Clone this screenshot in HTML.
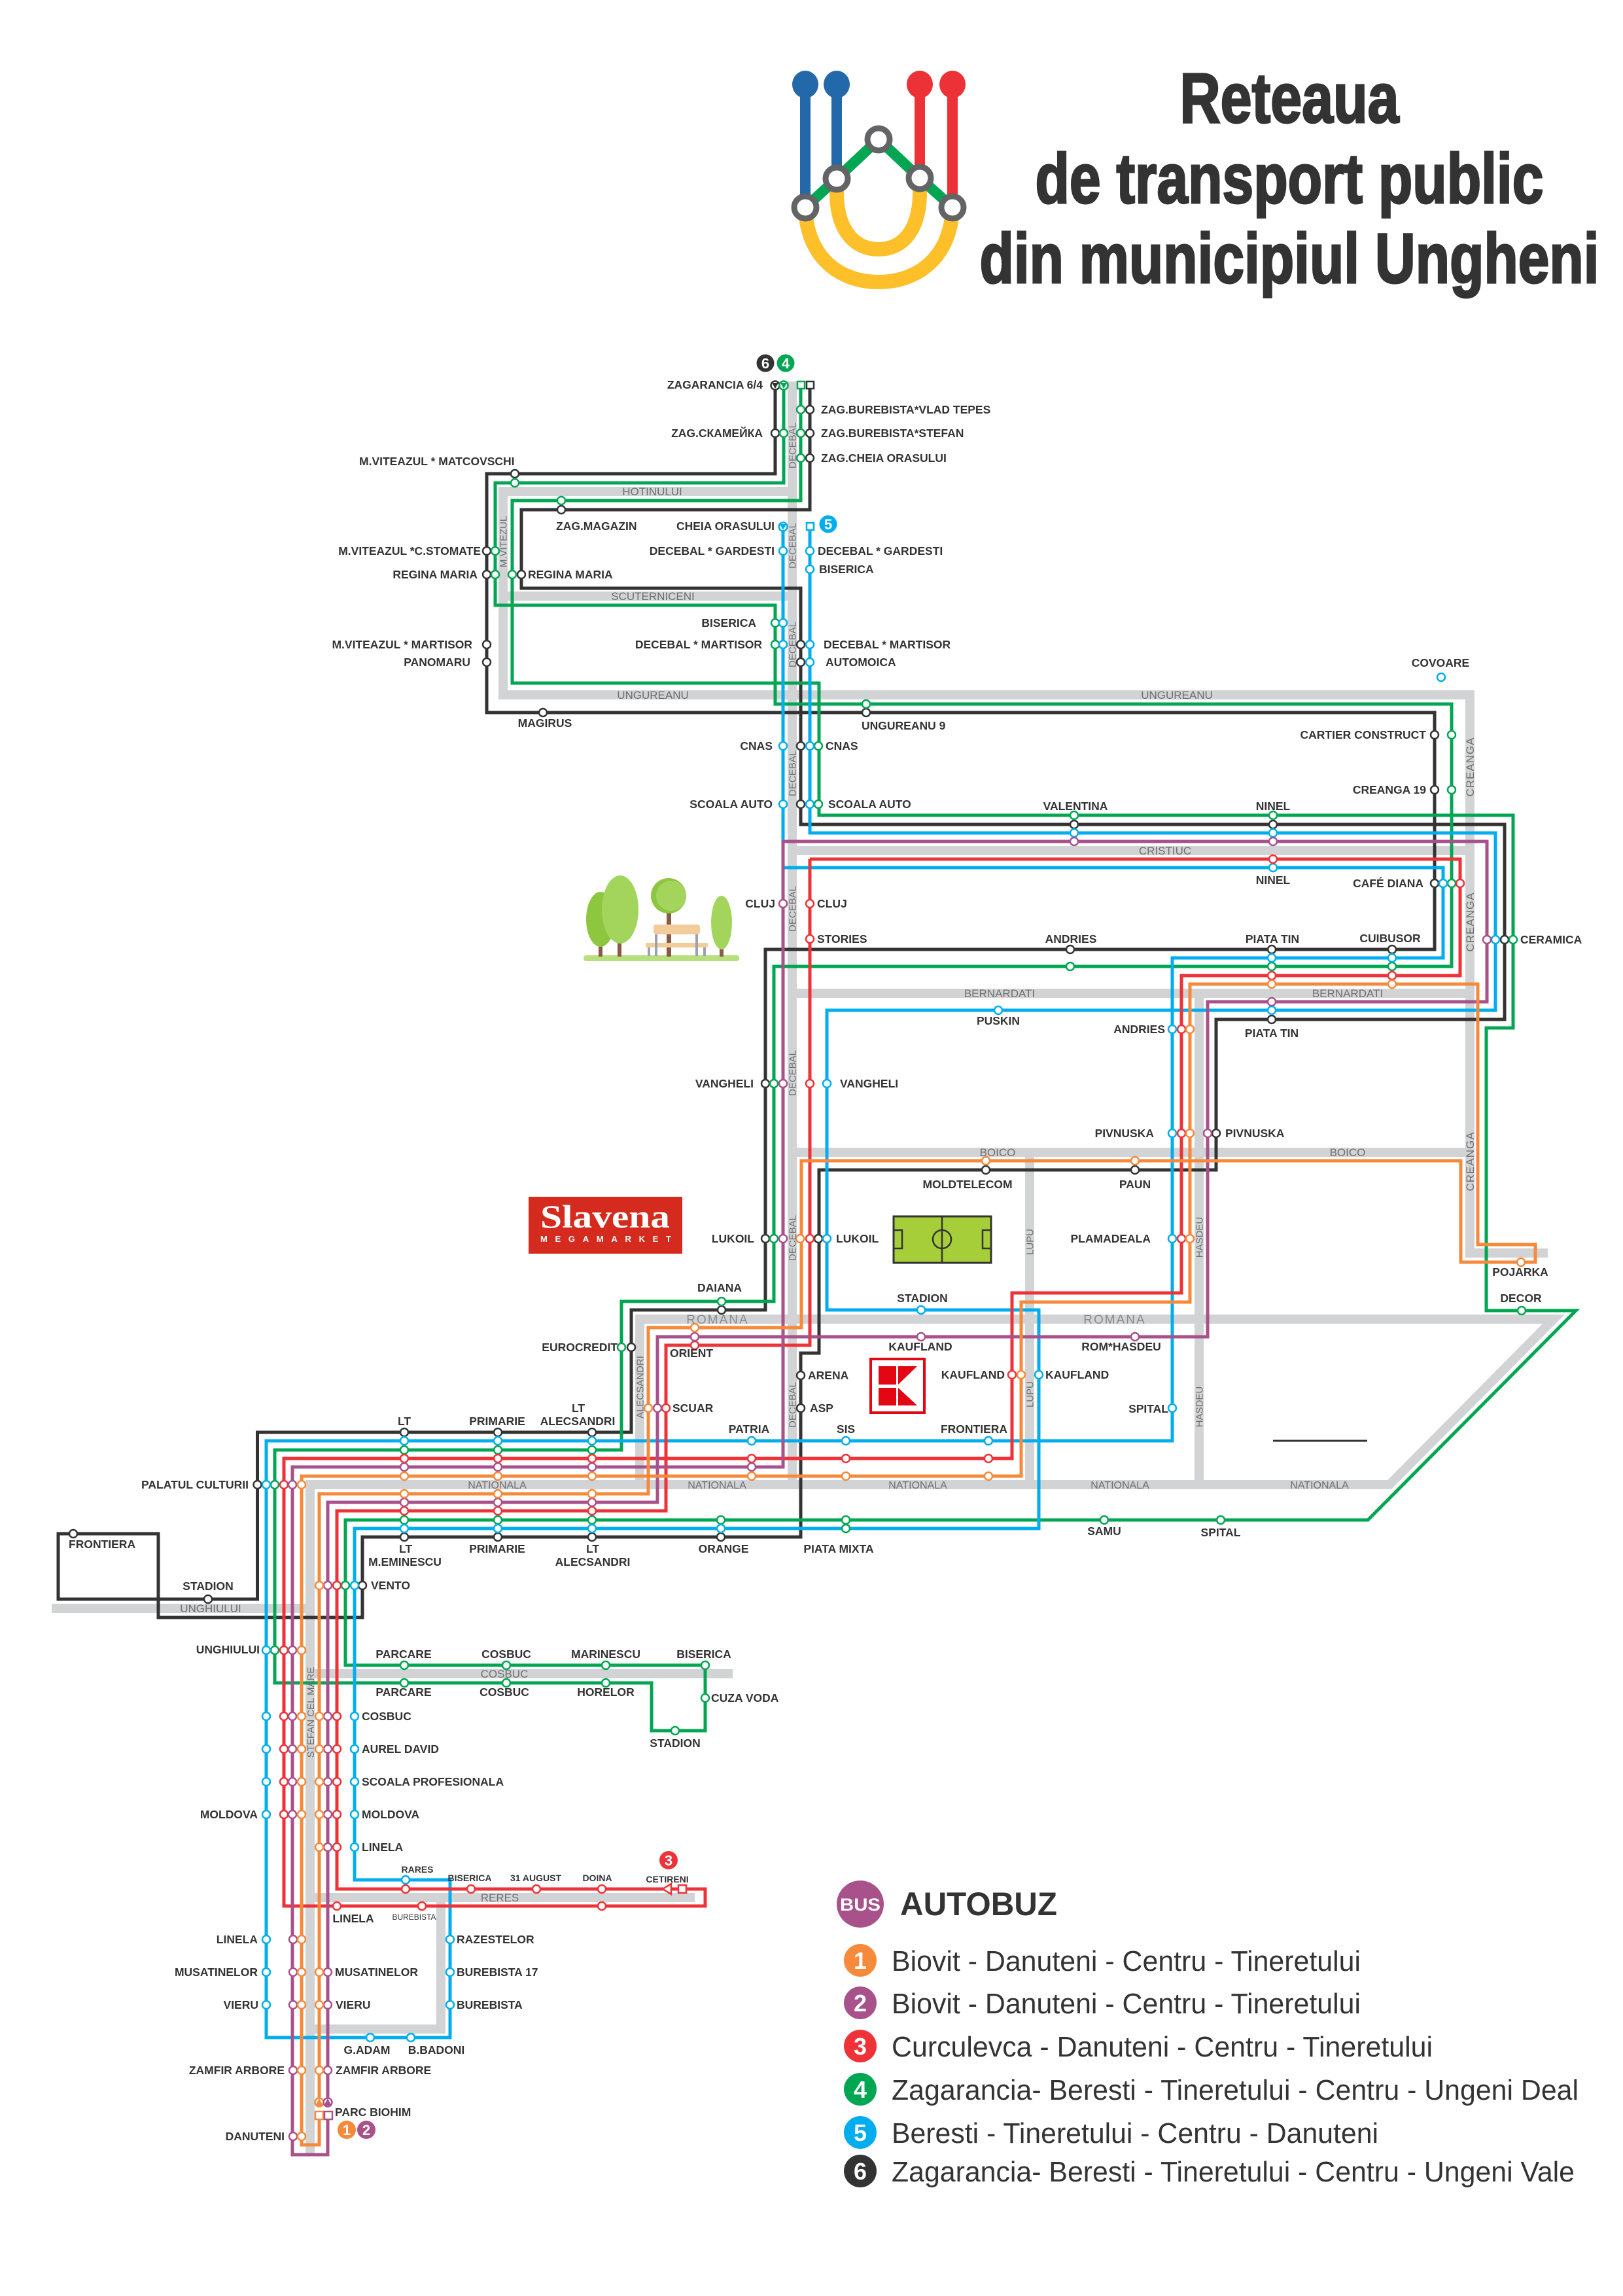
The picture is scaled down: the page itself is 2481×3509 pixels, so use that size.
<!DOCTYPE html>
<html><head><meta charset="utf-8">
<style>
html,body{margin:0;padding:0;background:#fff;}
svg{display:block;}
.t{font-family:"Liberation Sans",Arial,sans-serif;font-weight:bold;font-size:17.5px;fill:#333;}
.ts{font-family:"Liberation Sans",Arial,sans-serif;font-weight:bold;font-size:14px;fill:#333;}
.rd{font-family:"Liberation Sans",Arial,sans-serif;font-size:17px;fill:#6d6e71;}
.rdv{font-family:"Liberation Sans",Arial,sans-serif;font-size:15px;fill:#6d6e71;}
.rb{font-family:"Liberation Sans",Arial,sans-serif;font-size:19px;fill:#8a8b8d;letter-spacing:2px;}
.road{fill:none;stroke:#d1d3d4;stroke-width:14;}
.ln{fill:none;stroke-width:5;stroke-linejoin:miter;}
.n circle,.n rect{fill:#fff;stroke-width:2.5;}
.k{stroke:#333;} .g{stroke:#00a651;} .b{stroke:#00aeef;} .r{stroke:#ee3238;} .p{stroke:#a8518a;} .o{stroke:#f6893a;}
.title{font-family:"Liberation Sans",Arial,sans-serif;font-weight:bold;font-size:108px;fill:#333;stroke:#333;stroke-width:3;}
.leg{font-family:"Liberation Sans",Arial,sans-serif;font-size:44px;fill:#333;}
.bd{font-family:"Liberation Sans",Arial,sans-serif;font-weight:bold;fill:#fff;text-anchor:middle;}
</style></head>
<body>
<svg width="2481" height="3509" viewBox="0 0 2481 3509" xmlns="http://www.w3.org/2000/svg">
<rect width="2481" height="3509" fill="#fff"/>

<!-- LOGO -->
<g>
<path d="M1231,317 C1233,392 1282,431 1343,431 C1404,431 1454,392 1456,317" fill="none" stroke="#fdc02b" stroke-width="22"/>
<path d="M1279,273 V300 C1281,352 1306,381 1343,381 C1380,381 1404,352 1406,300 V273" fill="none" stroke="#fdc02b" stroke-width="22"/>
<line x1="1231" y1="130" x2="1231" y2="317" stroke="#2369a9" stroke-width="16"/>
<line x1="1279" y1="130" x2="1279" y2="273" stroke="#2369a9" stroke-width="16"/>
<line x1="1406" y1="130" x2="1406" y2="272" stroke="#ec3237" stroke-width="16"/>
<line x1="1456" y1="130" x2="1456" y2="317" stroke="#ec3237" stroke-width="16"/>
<ellipse cx="1231" cy="129" rx="20" ry="21" fill="#2369a9"/>
<ellipse cx="1279" cy="129" rx="20" ry="21" fill="#2369a9"/>
<ellipse cx="1406" cy="129" rx="20" ry="21" fill="#ec3237"/>
<ellipse cx="1456" cy="129" rx="20" ry="21" fill="#ec3237"/>
<polyline points="1231,317 1279,273 1343,213 1406,272 1456,317" fill="none" stroke="#00a651" stroke-width="16"/>
<g fill="#fff" stroke="#636466" stroke-width="9">
<circle cx="1231" cy="317" r="17"/><circle cx="1279" cy="273" r="17"/><circle cx="1343" cy="213" r="17"/><circle cx="1406" cy="272" r="17"/><circle cx="1456" cy="317" r="17"/>
</g>
</g>
<text class="title" x="1971" y="187" text-anchor="middle" textLength="335" lengthAdjust="spacingAndGlyphs">Reteaua</text>
<text class="title" x="1971" y="310" text-anchor="middle" textLength="777" lengthAdjust="spacingAndGlyphs">de transport public</text>
<text class="title" x="1971" y="432" text-anchor="middle" textLength="947" lengthAdjust="spacingAndGlyphs">din municipiul Ungheni</text>

<!-- ROADS -->
<g class="road">
<path d="M1211,583 V2269"/>
<path d="M1211,751 H769 V1062 H2247 V1915 H2366"/>
<path d="M769,911 H1211"/>
<path d="M1211,1300 H2247"/>
<path d="M1211,1518 H2247"/>
<path d="M1833,1518 V2269"/>
<path d="M1211,1761 H2247"/>
<path d="M1574,1761 V2269"/>
<path d="M978,2269 V2016 H2375 L2124,2269 H474 V3293"/>
<path d="M79,2458 H474"/>
<path d="M474,2558 H1120"/>
<path d="M474,2900 H1062"/>
<path d="M674,2900 V3101 H474"/>
</g>

<!-- ILLUSTRATIONS -->
<g>
<rect x="892" y="1460" width="238" height="9" rx="4" fill="#b7e07c"/>
<rect x="915" y="1420" width="6" height="42" fill="#8a5a44"/>
<ellipse cx="918" cy="1405" rx="22" ry="42" fill="#8dc63f"/>
<rect x="944" y="1420" width="6" height="42" fill="#8a5a44"/>
<ellipse cx="948" cy="1390" rx="28" ry="52" fill="#a3d55d"/>
<rect x="1019" y="1380" width="7" height="82" fill="#8a5a44"/>
<circle cx="1022" cy="1369" r="27" fill="#8dc63f"/>
<circle cx="1026" cy="1369" r="23" fill="#a3d55d"/>
<rect x="999" y="1413" width="71" height="15" rx="4" fill="#f2cc9b"/>
<rect x="987" y="1441" width="95" height="7" rx="2" fill="#f2cc9b"/>
<rect x="1001" y="1428" width="4" height="33" fill="#98a2b3"/>
<rect x="1063" y="1428" width="4" height="33" fill="#98a2b3"/>
<rect x="990" y="1448" width="4" height="13" fill="#98a2b3"/>
<rect x="1075" y="1448" width="4" height="13" fill="#98a2b3"/>
<rect x="1100" y="1440" width="6" height="22" fill="#8a5a44"/>
<ellipse cx="1103" cy="1410" rx="16" ry="41" fill="#a3d55d"/>
</g>
<g>
<rect x="808" y="1829" width="235" height="87" fill="#d52b1e"/>
<text x="925" y="1876" text-anchor="middle" textLength="198" lengthAdjust="spacingAndGlyphs" style="font-family:'Liberation Serif',serif;font-weight:bold;font-size:50px;fill:#fff;">Slavena</text>
<text x="826" y="1898" textLength="200" lengthAdjust="spacing" style="font-family:'Liberation Sans',sans-serif;font-weight:bold;font-size:13px;fill:#fff;">MEGAMARKET</text>
</g>
<g>
<rect x="1366" y="1859" width="149" height="71" fill="#a6ce39" stroke="#333" stroke-width="3"/>
<line x1="1440" y1="1859" x2="1440" y2="1930" stroke="#333" stroke-width="2.5"/>
<circle cx="1440" cy="1894" r="14" fill="none" stroke="#333" stroke-width="2.5"/>
<rect x="1366" y="1880" width="13" height="28" fill="none" stroke="#333" stroke-width="2.5"/>
<rect x="1502" y="1880" width="13" height="28" fill="none" stroke="#333" stroke-width="2.5"/>
</g>
<g>
<rect x="1331" y="2077" width="82" height="82" fill="#fff" stroke="#e30613" stroke-width="4"/>
<rect x="1343" y="2088" width="27" height="28" fill="#e30613"/>
<rect x="1343" y="2121" width="27" height="27" fill="#e30613"/>
<polygon points="1373,2088 1402,2088 1373,2116" fill="#e30613"/>
<polygon points="1373,2121 1402,2148 1373,2148" fill="#e30613"/>
</g>
<line x1="1946" y1="2202" x2="2090" y2="2202" stroke="#333" stroke-width="3"/>

<!-- ROUTE LINES -->
<path class="ln k" d="M1185,594 V724 H744 V1089 H2193 V1451 H1170 V2002 H965 V2189 H393.5 V2444 H89 V2344 H242 V2472 H554 V2349 H1224 V2068 H1252 V1788 H1859 V1558 H2300 V1260 H1224 V899 H797 V779 H1238 V594"/>
<path class="ln g" d="M1198,594 V738 H757 V925 H1185 V1076 H2219 V1477 H1183 V1989 H950 V2216 H420 V2572 H996 V2645 H1078 V2545 H528 V2323 H2091 L2409,2003 H2272 V1571 H2313 V1246 H1252 V1044 H783 V765 H1224 V594"/>
<path class="ln b" d="M1197,810 V1326 H2206 V1464 H1792 V2202 H407 V3114 H688 V2873 H542 V2336 H1588 V2002 H1264 V1544 H2286 V1273 H1238 V810"/>
<path class="ln r" d="M1238,1313 H2232 V1491 H1806 V1976 H1547 V2229 H434 V2913 H1078 V2887 H515 V2309 H1018 V2056 H1238 V1313"/>
<path class="ln p" d="M501,3213 V2296 H1005 V2043 H1846 V1531 H2273 V1286 H1197 V2242 H447 V3293 H501 V3233"/>
<path class="ln o" d="M488,3213 V2283 H991 V2029 H1225 V1774 H2233 V1929 H2347 V1902 H2259 V1504 H1819 V1990 H1561 V2256 H461 V3278 H488 V3233"/>

<!-- NODES -->
<g class="n">
<!-- black -->
<circle class="k" r="6" cx="1185" cy="662"/><circle class="k" r="6" cx="1238" cy="626"/><circle class="k" r="6" cx="1238" cy="662"/><circle class="k" r="6" cx="1238" cy="700"/>
<circle class="k" r="6" cx="787" cy="724"/><circle class="k" r="6" cx="858" cy="779"/><circle class="k" r="6" cx="744" cy="842"/><circle class="k" r="6" cx="744" cy="878"/><circle class="k" r="6" cx="797" cy="878"/>
<circle class="k" r="6" cx="744" cy="985"/><circle class="k" r="6" cx="744" cy="1012"/><circle class="k" r="6" cx="1224" cy="985"/><circle class="k" r="6" cx="1224" cy="1012"/>
<circle class="k" r="6" cx="830" cy="1089"/><circle class="k" r="6" cx="1324" cy="1089"/><circle class="k" r="6" cx="2193" cy="1123"/><circle class="k" r="6" cx="1224" cy="1140"/>
<circle class="k" r="6" cx="2193" cy="1207"/><circle class="k" r="6" cx="1224" cy="1229"/><circle class="k" r="6" cx="1642" cy="1260"/><circle class="k" r="6" cx="1946" cy="1260"/>
<circle class="k" r="6" cx="2193" cy="1350"/><circle class="k" r="6" cx="1636" cy="1451"/><circle class="k" r="6" cx="1944" cy="1451"/><circle class="k" r="6" cx="2128" cy="1451"/>
<circle class="k" r="6" cx="2300" cy="1436"/><circle class="k" r="6" cx="1944" cy="1558"/><circle class="k" r="6" cx="1859" cy="1732"/><circle class="k" r="6" cx="1170" cy="1656"/>
<circle class="k" r="6" cx="1507" cy="1788"/><circle class="k" r="6" cx="1735" cy="1788"/><circle class="k" r="6" cx="1170" cy="1893"/><circle class="k" r="6" cx="1251" cy="1893"/>
<circle class="k" r="6" cx="1103" cy="2002"/><circle class="k" r="6" cx="965" cy="2059"/><circle class="k" r="6" cx="1224" cy="2102"/><circle class="k" r="6" cx="1224" cy="2152"/>
<circle class="k" r="6" cx="618" cy="2189"/><circle class="k" r="6" cx="761" cy="2189"/><circle class="k" r="6" cx="905" cy="2189"/><circle class="k" r="6" cx="393.5" cy="2269"/>
<circle class="k" r="6" cx="318" cy="2444"/><circle class="k" r="6" cx="112" cy="2344"/><circle class="k" r="6" cx="554" cy="2423"/>
<circle class="k" r="6" cx="618" cy="2349"/><circle class="k" r="6" cx="761" cy="2349"/><circle class="k" r="6" cx="905" cy="2349"/><circle class="k" r="6" cx="1102" cy="2349"/>
<!-- green -->
<circle class="g" r="6" cx="1224" cy="626"/><circle class="g" r="6" cx="1198" cy="662"/><circle class="g" r="6" cx="1224" cy="662"/><circle class="g" r="6" cx="1224" cy="700"/>
<circle class="g" r="6" cx="787" cy="738"/><circle class="g" r="6" cx="858" cy="765"/><circle class="g" r="6" cx="757" cy="842"/><circle class="g" r="6" cx="757" cy="878"/><circle class="g" r="6" cx="783" cy="878"/>
<circle class="g" r="6" cx="1185" cy="952"/><circle class="g" r="6" cx="1185" cy="985"/><circle class="g" r="6" cx="1324" cy="1076"/><circle class="g" r="6" cx="2219" cy="1123"/>
<circle class="g" r="6" cx="1251" cy="1140"/><circle class="g" r="6" cx="2219" cy="1207"/><circle class="g" r="6" cx="1251" cy="1229"/><circle class="g" r="6" cx="1642" cy="1246"/>
<circle class="g" r="6" cx="1946" cy="1246"/><circle class="g" r="6" cx="2219" cy="1350"/><circle class="g" r="6" cx="2313" cy="1436"/><circle class="g" r="6" cx="1636" cy="1477"/>
<circle class="g" r="6" cx="1944" cy="1477"/><circle class="g" r="6" cx="2128" cy="1477"/><circle class="g" r="6" cx="1183" cy="1656"/><circle class="g" r="6" cx="1183" cy="1893"/>
<circle class="g" r="6" cx="1103" cy="1989"/><circle class="g" r="6" cx="950" cy="2059"/><circle class="g" r="6" cx="618" cy="2216"/><circle class="g" r="6" cx="761" cy="2216"/><circle class="g" r="6" cx="905" cy="2216"/>
<circle class="g" r="6" cx="420" cy="2269"/><circle class="g" r="6" cx="420" cy="2522"/><circle class="g" r="6" cx="528" cy="2423"/>
<circle class="g" r="6" cx="618" cy="2323"/><circle class="g" r="6" cx="761" cy="2323"/><circle class="g" r="6" cx="905" cy="2323"/><circle class="g" r="6" cx="1102" cy="2323"/>
<circle class="g" r="6" cx="1293" cy="2323"/><circle class="g" r="6" cx="1293" cy="2336"/><circle class="g" r="6" cx="1688" cy="2323"/><circle class="g" r="6" cx="1866" cy="2323"/><circle class="g" r="6" cx="2326" cy="2003"/>
<circle class="g" r="6" cx="618" cy="2545"/><circle class="g" r="6" cx="774" cy="2545"/><circle class="g" r="6" cx="926" cy="2545"/><circle class="g" r="6" cx="1078" cy="2545"/>
<circle class="g" r="6" cx="618" cy="2572"/><circle class="g" r="6" cx="774" cy="2572"/><circle class="g" r="6" cx="926" cy="2572"/><circle class="g" r="6" cx="1078" cy="2595"/><circle class="g" r="6" cx="1032" cy="2645"/>
<!-- blue -->
<circle class="b" r="6" cx="1197" cy="842"/><circle class="b" r="6" cx="1238" cy="842"/><circle class="b" r="6" cx="1238" cy="870"/><circle class="b" r="6" cx="1197" cy="952"/>
<circle class="b" r="6" cx="1197" cy="985"/><circle class="b" r="6" cx="1238" cy="985"/><circle class="b" r="6" cx="1238" cy="1012"/><circle class="b" r="6" cx="2203" cy="1035"/>
<circle class="b" r="6" cx="1197" cy="1140"/><circle class="b" r="6" cx="1238" cy="1140"/><circle class="b" r="6" cx="1197" cy="1229"/><circle class="b" r="6" cx="1238" cy="1229"/>
<circle class="b" r="6" cx="1642" cy="1273"/><circle class="b" r="6" cx="1946" cy="1273"/><circle class="b" r="6" cx="1946" cy="1326"/><circle class="b" r="6" cx="2206" cy="1350"/>
<circle class="b" r="6" cx="2286" cy="1436"/><circle class="b" r="6" cx="1944" cy="1464"/><circle class="b" r="6" cx="2128" cy="1464"/><circle class="b" r="6" cx="1526" cy="1544"/>
<circle class="b" r="6" cx="1944" cy="1544"/><circle class="b" r="6" cx="1792" cy="1573"/><circle class="b" r="6" cx="1264" cy="1656"/><circle class="b" r="6" cx="1792" cy="1732"/>
<circle class="b" r="6" cx="1264" cy="1893"/><circle class="b" r="6" cx="1792" cy="1893"/><circle class="b" r="6" cx="1408" cy="2002"/><circle class="b" r="6" cx="1588" cy="2101"/><circle class="b" r="6" cx="1792" cy="2152"/>
<circle class="b" r="6" cx="618" cy="2202"/><circle class="b" r="6" cx="761" cy="2202"/><circle class="b" r="6" cx="905" cy="2202"/><circle class="b" r="6" cx="1149" cy="2202"/><circle class="b" r="6" cx="1293" cy="2202"/><circle class="b" r="6" cx="1511" cy="2202"/>
<circle class="b" r="6" cx="407" cy="2269"/><circle class="b" r="6" cx="407" cy="2522"/><circle class="b" r="6" cx="542" cy="2423"/>
<circle class="b" r="6" cx="618" cy="2336"/><circle class="b" r="6" cx="761" cy="2336"/><circle class="b" r="6" cx="905" cy="2336"/><circle class="b" r="6" cx="1102" cy="2336"/>
<circle class="b" r="6" cx="407" cy="2623"/><circle class="b" r="6" cx="542" cy="2623"/><circle class="b" r="6" cx="407" cy="2673"/><circle class="b" r="6" cx="542" cy="2673"/>
<circle class="b" r="6" cx="407" cy="2723"/><circle class="b" r="6" cx="542" cy="2723"/><circle class="b" r="6" cx="407" cy="2773"/><circle class="b" r="6" cx="542" cy="2773"/>
<circle class="b" r="6" cx="542" cy="2823"/><circle class="b" r="6" cx="620" cy="2873"/>
<circle class="b" r="6" cx="407" cy="2964"/><circle class="b" r="6" cx="407" cy="3014"/><circle class="b" r="6" cx="407" cy="3064"/>
<circle class="b" r="6" cx="688" cy="2964"/><circle class="b" r="6" cx="688" cy="3014"/><circle class="b" r="6" cx="688" cy="3064"/>
<circle class="b" r="6" cx="566" cy="3114"/><circle class="b" r="6" cx="628" cy="3114"/>
<!-- red -->
<circle class="r" r="6" cx="1946" cy="1313"/><circle class="r" r="6" cx="2232" cy="1350"/><circle class="r" r="6" cx="1238" cy="1381"/><circle class="r" r="6" cx="1238" cy="1435"/>
<circle class="r" r="6" cx="1944" cy="1491"/><circle class="r" r="6" cx="2128" cy="1491"/><circle class="r" r="6" cx="1806" cy="1573"/><circle class="r" r="6" cx="1238" cy="1656"/>
<circle class="r" r="6" cx="1806" cy="1732"/><circle class="r" r="6" cx="1238" cy="1893"/><circle class="r" r="6" cx="1806" cy="1893"/><circle class="r" r="6" cx="1062" cy="2056"/>
<circle class="r" r="6" cx="1547" cy="2101"/><circle class="r" r="6" cx="1018" cy="2152"/>
<circle class="r" r="6" cx="618" cy="2229"/><circle class="r" r="6" cx="761" cy="2229"/><circle class="r" r="6" cx="905" cy="2229"/><circle class="r" r="6" cx="1149" cy="2229"/><circle class="r" r="6" cx="1293" cy="2229"/><circle class="r" r="6" cx="1511" cy="2229"/>
<circle class="r" r="6" cx="434" cy="2269"/><circle class="r" r="6" cx="434" cy="2522"/><circle class="r" r="6" cx="515" cy="2423"/>
<circle class="r" r="6" cx="618" cy="2309"/><circle class="r" r="6" cx="761" cy="2309"/><circle class="r" r="6" cx="905" cy="2309"/>
<circle class="r" r="6" cx="434" cy="2623"/><circle class="r" r="6" cx="515" cy="2623"/><circle class="r" r="6" cx="434" cy="2673"/><circle class="r" r="6" cx="515" cy="2673"/>
<circle class="r" r="6" cx="434" cy="2723"/><circle class="r" r="6" cx="515" cy="2723"/><circle class="r" r="6" cx="434" cy="2773"/><circle class="r" r="6" cx="515" cy="2773"/>
<circle class="r" r="6" cx="515" cy="2823"/>
<circle class="r" r="6" cx="620" cy="2887"/><circle class="r" r="6" cx="720" cy="2887"/><circle class="r" r="6" cx="820" cy="2887"/><circle class="r" r="6" cx="920" cy="2887"/>
<circle class="r" r="6" cx="515" cy="2913"/><circle class="r" r="6" cx="645" cy="2913"/><circle class="r" r="6" cx="920" cy="2913"/>
<!-- purple -->
<circle class="p" r="6" cx="1642" cy="1286"/><circle class="p" r="6" cx="1946" cy="1286"/><circle class="p" r="6" cx="2273" cy="1436"/><circle class="p" r="6" cx="1197" cy="1381"/>
<circle class="p" r="6" cx="1944" cy="1531"/><circle class="p" r="6" cx="1846" cy="1732"/><circle class="p" r="6" cx="1197" cy="1656"/><circle class="p" r="6" cx="1197" cy="1893"/>
<circle class="p" r="6" cx="1062" cy="2043"/><circle class="p" r="6" cx="1408" cy="2043"/><circle class="p" r="6" cx="1735" cy="2043"/><circle class="p" r="6" cx="1005" cy="2152"/>
<circle class="p" r="6" cx="618" cy="2242"/><circle class="p" r="6" cx="761" cy="2242"/><circle class="p" r="6" cx="905" cy="2242"/><circle class="p" r="6" cx="1149" cy="2242"/>
<circle class="p" r="6" cx="447" cy="2269"/><circle class="p" r="6" cx="447" cy="2522"/><circle class="p" r="6" cx="501" cy="2423"/>
<circle class="p" r="6" cx="618" cy="2296"/><circle class="p" r="6" cx="761" cy="2296"/><circle class="p" r="6" cx="905" cy="2296"/>
<circle class="p" r="6" cx="447" cy="2623"/><circle class="p" r="6" cx="501" cy="2623"/><circle class="p" r="6" cx="447" cy="2673"/><circle class="p" r="6" cx="501" cy="2673"/>
<circle class="p" r="6" cx="447" cy="2723"/><circle class="p" r="6" cx="501" cy="2723"/><circle class="p" r="6" cx="447" cy="2773"/><circle class="p" r="6" cx="501" cy="2773"/>
<circle class="p" r="6" cx="501" cy="2823"/>
<circle class="p" r="6" cx="448" cy="2964"/><circle class="p" r="6" cx="448" cy="3014"/><circle class="p" r="6" cx="501" cy="3014"/><circle class="p" r="6" cx="448" cy="3064"/><circle class="p" r="6" cx="501" cy="3064"/>
<circle class="p" r="6" cx="448" cy="3164"/><circle class="p" r="6" cx="501" cy="3164"/><circle class="p" r="6" cx="448" cy="3265"/>
<!-- orange -->
<circle class="o" r="6" cx="1944" cy="1504"/><circle class="o" r="6" cx="2128" cy="1504"/><circle class="o" r="6" cx="1819" cy="1573"/><circle class="o" r="6" cx="1819" cy="1732"/>
<circle class="o" r="6" cx="1507" cy="1774"/><circle class="o" r="6" cx="1735" cy="1774"/><circle class="o" r="6" cx="1223" cy="1893"/><circle class="o" r="6" cx="1819" cy="1893"/>
<circle class="o" r="6" cx="2325" cy="1929"/><circle class="o" r="6" cx="1062" cy="2029"/><circle class="o" r="6" cx="1561" cy="2101"/><circle class="o" r="6" cx="991" cy="2152"/>
<circle class="o" r="6" cx="618" cy="2256"/><circle class="o" r="6" cx="761" cy="2256"/><circle class="o" r="6" cx="905" cy="2256"/><circle class="o" r="6" cx="1149" cy="2256"/><circle class="o" r="6" cx="1293" cy="2256"/><circle class="o" r="6" cx="1511" cy="2256"/>
<circle class="o" r="6" cx="461" cy="2269"/><circle class="o" r="6" cx="461" cy="2522"/><circle class="o" r="6" cx="488" cy="2423"/>
<circle class="o" r="6" cx="618" cy="2283"/><circle class="o" r="6" cx="761" cy="2283"/><circle class="o" r="6" cx="905" cy="2283"/>
<circle class="o" r="6" cx="461" cy="2623"/><circle class="o" r="6" cx="488" cy="2623"/><circle class="o" r="6" cx="461" cy="2673"/><circle class="o" r="6" cx="488" cy="2673"/>
<circle class="o" r="6" cx="461" cy="2723"/><circle class="o" r="6" cx="488" cy="2723"/><circle class="o" r="6" cx="461" cy="2773"/><circle class="o" r="6" cx="488" cy="2773"/>
<circle class="o" r="6" cx="488" cy="2823"/>
<circle class="o" r="6" cx="461" cy="2964"/><circle class="o" r="6" cx="461" cy="3014"/><circle class="o" r="6" cx="488" cy="3014"/><circle class="o" r="6" cx="461" cy="3064"/><circle class="o" r="6" cx="488" cy="3064"/>
<circle class="o" r="6" cx="461" cy="3164"/><circle class="o" r="6" cx="488" cy="3164"/><circle class="o" r="6" cx="461" cy="3265"/>
<!-- terminals -->
<circle class="k" r="6.5" cx="1185" cy="589"/><circle class="g" r="6.5" cx="1198" cy="589"/><circle class="b" r="6.5" cx="1197" cy="805"/>
<rect class="g" x="1219" y="583" width="11" height="11"/><rect class="k" x="1233" y="583" width="11" height="11"/>
<rect class="b" x="1233" y="799" width="11" height="11"/>
<rect class="r" x="1037" y="2881" width="12" height="12"/>
<circle class="o" r="6.5" cx="488" cy="3213"/><circle class="p" r="6.5" cx="501" cy="3213"/>
<rect class="o" x="482" y="3227" width="12" height="12"/><rect class="p" x="496" y="3227" width="12" height="12"/>
</g>
<polygon points="1180,585 1190,585 1185,594" fill="#333"/>
<polygon points="1193,585 1203,585 1198,594" fill="#00a651"/>
<polygon points="1192,801 1202,801 1197,810" fill="#00aeef"/>
<polygon points="1013,2887 1026,2879 1026,2895" fill="#fff" stroke="#ee3238" stroke-width="2.5"/>
<polygon points="482,3218 494,3218 488,3207" fill="#f6893a"/>
<polygon points="495,3218 507,3218 501,3207" fill="#a8518a"/>

<!-- BADGES -->
<circle cx="1170" cy="555" r="13.5" fill="#333"/><text class="bd" x="1170" y="563" font-size="22">6</text>
<circle cx="1201" cy="555" r="13.5" fill="#00a651"/><text class="bd" x="1201" y="563" font-size="22">4</text>
<circle cx="1266" cy="801" r="13.5" fill="#00aeef"/><text class="bd" x="1266" y="809" font-size="22">5</text>
<circle cx="1022" cy="2843" r="14" fill="#ee3238"/><text class="bd" x="1022" y="2851" font-size="22">3</text>
<circle cx="530" cy="3255" r="14" fill="#f6893a"/><text class="bd" x="530" y="3263" font-size="22">1</text>
<circle cx="560" cy="3255" r="14" fill="#a8518a"/><text class="bd" x="560" y="3263" font-size="22">2</text>

<!-- ROAD LABELS -->
<g class="rd" text-anchor="middle">
<text x="997" y="757">HOTINULUI</text>
<text x="998" y="917">SCUTERNICENI</text>
<text x="998" y="1068">UNGUREANU</text>
<text x="1799" y="1068">UNGUREANU</text>
<text x="1781" y="1306">CRISTIUC</text>
<text x="1528" y="1524">BERNARDATI</text>
<text x="2060" y="1524">BERNARDATI</text>
<text x="1525" y="1767">BOICO</text>
<text x="2060" y="1767">BOICO</text>
<text x="322" y="2464">UNGHIULUI</text>
<text x="771" y="2564">COSBUC</text>
<text x="764" y="2906">RERES</text>
</g>
<g class="rd" text-anchor="middle" style="font-size:16px;">
<text x="760" y="2275">NATIONALA</text>
<text x="1096" y="2275">NATIONALA</text>
<text x="1403" y="2275">NATIONALA</text>
<text x="1712" y="2275">NATIONALA</text>
<text x="2017" y="2275">NATIONALA</text>
</g>
<g class="rdv" text-anchor="middle">
<text transform="translate(1216.5,681) rotate(-90)">DECEBAL</text>
<text transform="translate(1216.5,834) rotate(-90)">DECEBAL</text>
<text transform="translate(1216.5,985) rotate(-90)">DECEBAL</text>
<text transform="translate(1216.5,1182) rotate(-90)">DECEBAL</text>
<text transform="translate(1216.5,1389) rotate(-90)">DECEBAL</text>
<text transform="translate(1216.5,1640) rotate(-90)">DECEBAL</text>
<text transform="translate(1216.5,1892) rotate(-90)">DECEBAL</text>
<text transform="translate(1216.5,2147) rotate(-90)">DECEBAL</text>
<text transform="translate(774.5,828) rotate(-90)">M.VITEZUL</text>
<text transform="translate(1838.5,1891) rotate(-90)">HASDEU</text>
<text transform="translate(1838.5,2150) rotate(-90)">HASDEU</text>
<text transform="translate(1579.5,1898) rotate(-90)">LUPU</text>
<text transform="translate(1579.5,2131) rotate(-90)">LUPU</text>
<text transform="translate(983.5,2120) rotate(-90)">ALECSANDRI</text>
<text transform="translate(480,2617) rotate(-90)">STEFAN CEL MARE</text>
</g>
<g class="rdv" text-anchor="middle" style="font-size:17px;letter-spacing:1px;">
<text transform="translate(2253,1172) rotate(-90)">CREANGA</text>
<text transform="translate(2253,1409) rotate(-90)">CREANGA</text>
<text transform="translate(2253,1775) rotate(-90)">CREANGA</text>
</g>
<g class="rb" text-anchor="middle">
<text x="1097" y="2023">ROMANA</text>
<text x="1704" y="2023">ROMANA</text>
</g>

<!-- STATION LABELS -->
<g class="t">
<text x="1166" y="594" text-anchor="end">ZAGARANCIA 6/4</text>
<text x="1255" y="632">ZAG.BUREBISTA*VLAD TEPES</text>
<text x="1166" y="668" text-anchor="end">ZAG.СКАМЕЙКА</text>
<text x="1255" y="668">ZAG.BUREBISTA*STEFAN</text>
<text x="1255" y="706">ZAG.CHEIA ORASULUI</text>
<text x="549" y="711">M.VITEAZUL * MATCOVSCHI</text>
<text x="850" y="810">ZAG.MAGAZIN</text>
<text x="1184" y="810" text-anchor="end">CHEIA ORASULUI</text>
<text x="735" y="848" text-anchor="end">M.VITEAZUL *C.STOMATE</text>
<text x="1184" y="848" text-anchor="end">DECEBAL * GARDESTI</text>
<text x="1250" y="848">DECEBAL * GARDESTI</text>
<text x="1252" y="876">BISERICA</text>
<text x="730" y="884" text-anchor="end">REGINA MARIA</text>
<text x="807" y="884">REGINA MARIA</text>
<text x="1156" y="958" text-anchor="end">BISERICA</text>
<text x="722" y="991" text-anchor="end">M.VITEAZUL  * MARTISOR</text>
<text x="1165" y="991" text-anchor="end">DECEBAL * MARTISOR</text>
<text x="1259" y="991">DECEBAL * MARTISOR</text>
<text x="719" y="1018" text-anchor="end">PANOMARU</text>
<text x="1262" y="1018">AUTOMOICA</text>
<text x="833" y="1111" text-anchor="middle">MAGIRUS</text>
<text x="1317" y="1115">UNGUREANU 9</text>
<text x="2202" y="1019" text-anchor="middle">COVOARE</text>
<text x="2180" y="1129" text-anchor="end">CARTIER CONSTRUCT</text>
<text x="1181" y="1146" text-anchor="end">CNAS</text>
<text x="1262" y="1146">CNAS</text>
<text x="2180" y="1213" text-anchor="end">CREANGA 19</text>
<text x="1181" y="1235" text-anchor="end">SCOALA AUTO</text>
<text x="1266" y="1235">SCOALA AUTO</text>
<text x="1644" y="1238" text-anchor="middle">VALENTINA</text>
<text x="1946" y="1238" text-anchor="middle">NINEL</text>
<text x="1946" y="1351" text-anchor="middle">NINEL</text>
<text x="2176" y="1356" text-anchor="end">CAFÉ DIANA</text>
<text x="1185" y="1387" text-anchor="end">CLUJ</text>
<text x="1249" y="1387">CLUJ</text>
<text x="1249" y="1441">STORIES</text>
<text x="1637" y="1441" text-anchor="middle">ANDRIES</text>
<text x="1945" y="1441" text-anchor="middle">PIATA TIN</text>
<text x="2125" y="1440" text-anchor="middle">CUIBUSOR</text>
<text x="2324" y="1442">CERAMICA</text>
<text x="1526" y="1566" text-anchor="middle">PUSKIN</text>
<text x="1781" y="1579" text-anchor="end">ANDRIES</text>
<text x="1944" y="1585" text-anchor="middle">PIATA TIN</text>
<text x="1152" y="1662" text-anchor="end">VANGHELI</text>
<text x="1284" y="1662">VANGHELI</text>
<text x="1764" y="1738" text-anchor="end">PIVNUSKA</text>
<text x="1873" y="1738">PIVNUSKA</text>
<text x="1479" y="1816" text-anchor="middle">MOLDTELECOM</text>
<text x="1735" y="1816" text-anchor="middle">PAUN</text>
<text x="1153" y="1899" text-anchor="end">LUKOIL</text>
<text x="1278" y="1899">LUKOIL</text>
<text x="1759" y="1899" text-anchor="end">PLAMADEALA</text>
<text x="2324" y="1950" text-anchor="middle">POJARKA</text>
<text x="2325" y="1990" text-anchor="middle">DECOR</text>
<text x="1100" y="1974" text-anchor="middle">DAIANA</text>
<text x="1410" y="1990" text-anchor="middle">STADION</text>
<text x="944" y="2065" text-anchor="end">EUROCREDIT</text>
<text x="1024" y="2074">ORIENT</text>
<text x="1407" y="2064" text-anchor="middle">KAUFLAND</text>
<text x="1714" y="2064" text-anchor="middle">ROM*HASDEU</text>
<text x="1235" y="2108">ARENA</text>
<text x="1536" y="2107" text-anchor="end">KAUFLAND</text>
<text x="1598" y="2107">KAUFLAND</text>
<text x="1028" y="2158">SCUAR</text>
<text x="1238" y="2158">ASP</text>
<text x="1786" y="2159" text-anchor="end">SPITAL</text>
<text x="618" y="2178" text-anchor="middle">LT</text>
<text x="760" y="2178" text-anchor="middle">PRIMARIE</text>
<text x="884" y="2158" text-anchor="middle">LT</text>
<text x="883" y="2178" text-anchor="middle">ALECSANDRI</text>
<text x="1145" y="2190" text-anchor="middle">PATRIA</text>
<text x="1293" y="2190" text-anchor="middle">SIS</text>
<text x="1489" y="2190" text-anchor="middle">FRONTIERA</text>
<text x="380" y="2275" text-anchor="end">PALATUL CULTURII</text>
<text x="1688" y="2346" text-anchor="middle">SAMU</text>
<text x="1866" y="2348" text-anchor="middle">SPITAL</text>
<text x="620" y="2373" text-anchor="middle">LT</text>
<text x="619" y="2393" text-anchor="middle">M.EMINESCU</text>
<text x="760" y="2373" text-anchor="middle">PRIMARIE</text>
<text x="906" y="2373" text-anchor="middle">LT</text>
<text x="906" y="2393" text-anchor="middle">ALECSANDRI</text>
<text x="1106" y="2373" text-anchor="middle">ORANGE</text>
<text x="1282" y="2373" text-anchor="middle">PIATA MIXTA</text>
<text x="105" y="2366">FRONTIERA</text>
<text x="318" y="2430" text-anchor="middle">STADION</text>
<text x="567" y="2429">VENTO</text>
<text x="397" y="2527" text-anchor="end">UNGHIULUI</text>
<text x="617" y="2534" text-anchor="middle">PARCARE</text>
<text x="774" y="2534" text-anchor="middle">COSBUC</text>
<text x="926" y="2534" text-anchor="middle">MARINESCU</text>
<text x="1076" y="2534" text-anchor="middle">BISERICA</text>
<text x="617" y="2592" text-anchor="middle">PARCARE</text>
<text x="771" y="2592" text-anchor="middle">COSBUC</text>
<text x="926" y="2592" text-anchor="middle">HORELOR</text>
<text x="1087" y="2601">CUZA VODA</text>
<text x="1032" y="2670" text-anchor="middle">STADION</text>
<text x="553" y="2629">COSBUC</text>
<text x="553" y="2679">AUREL DAVID</text>
<text x="553" y="2729">SCOALA PROFESIONALA</text>
<text x="553" y="2779">MOLDOVA</text>
<text x="553" y="2829">LINELA</text>
<text x="394" y="2779" text-anchor="end">MOLDOVA</text>
<text x="540" y="2938" text-anchor="middle">LINELA</text>
<text x="394" y="2970" text-anchor="end">LINELA</text>
<text x="698" y="2970">RAZESTELOR</text>
<text x="394" y="3020" text-anchor="end">MUSATINELOR</text>
<text x="512" y="3020">MUSATINELOR</text>
<text x="698" y="3020">BUREBISTA 17</text>
<text x="395" y="3070" text-anchor="end">VIERU</text>
<text x="513" y="3070">VIERU</text>
<text x="698" y="3070">BUREBISTA</text>
<text x="561" y="3139" text-anchor="middle">G.ADAM</text>
<text x="667" y="3139" text-anchor="middle">B.BADONI</text>
<text x="435" y="3170" text-anchor="end">ZAMFIR ARBORE</text>
<text x="513" y="3170">ZAMFIR ARBORE</text>
<text x="512" y="3234">PARC BIOHIM</text>
<text x="435" y="3271" text-anchor="end">DANUTENI</text>
</g>
<g class="ts" text-anchor="middle">
<text x="638" y="2862">RARES</text>
<text x="718" y="2875">BISERICA</text>
<text x="819" y="2875">31 AUGUST</text>
<text x="913" y="2875">DOINA</text>
<text x="1020" y="2877">CETIRENI</text>
<text x="633" y="2934" style="font-size:12px;font-weight:normal;">BUREBISTA</text>
</g>

<!-- LEGEND -->
<circle cx="1315" cy="2910" r="36" fill="#a8518a"/>
<text class="bd" x="1315" y="2920" font-size="27" textLength="62" lengthAdjust="spacingAndGlyphs">BUS</text>
<text x="1376" y="2927" textLength="240" lengthAdjust="spacingAndGlyphs" style="font-family:'Liberation Sans',sans-serif;font-weight:bold;font-size:50px;fill:#333;">AUTOBUZ</text>

<circle cx="1315" cy="2996" r="25" fill="#f6893a"/><text class="bd" x="1315" y="3009" font-size="36">1</text>
<circle cx="1315" cy="3061" r="25" fill="#a8518a"/><text class="bd" x="1315" y="3074" font-size="36">2</text>
<circle cx="1315" cy="3127" r="25" fill="#ee3238"/><text class="bd" x="1315" y="3140" font-size="36">3</text>
<circle cx="1315" cy="3193" r="25" fill="#00a651"/><text class="bd" x="1315" y="3206" font-size="36">4</text>
<circle cx="1315" cy="3259" r="25" fill="#00aeef"/><text class="bd" x="1315" y="3272" font-size="36">5</text>
<circle cx="1315" cy="3318" r="25" fill="#333"/><text class="bd" x="1315" y="3331" font-size="36">6</text>

<text class="leg" x="1363" y="3012" textLength="717" lengthAdjust="spacingAndGlyphs">Biovit - Danuteni - Centru - Tineretului</text>
<text class="leg" x="1363" y="3077" textLength="717" lengthAdjust="spacingAndGlyphs">Biovit - Danuteni - Centru - Tineretului</text>
<text class="leg" x="1363" y="3143" textLength="827" lengthAdjust="spacingAndGlyphs">Curculevca - Danuteni - Centru - Tineretului</text>
<text class="leg" x="1363" y="3209" textLength="1050" lengthAdjust="spacingAndGlyphs">Zagarancia- Beresti - Tineretului - Centru - Ungeni Deal</text>
<text class="leg" x="1363" y="3275" textLength="744" lengthAdjust="spacingAndGlyphs">Beresti - Tineretului - Centru - Danuteni</text>
<text class="leg" x="1363" y="3334" textLength="1044" lengthAdjust="spacingAndGlyphs">Zagarancia- Beresti - Tineretului - Centru - Ungeni Vale</text>
</svg>
</body></html>
